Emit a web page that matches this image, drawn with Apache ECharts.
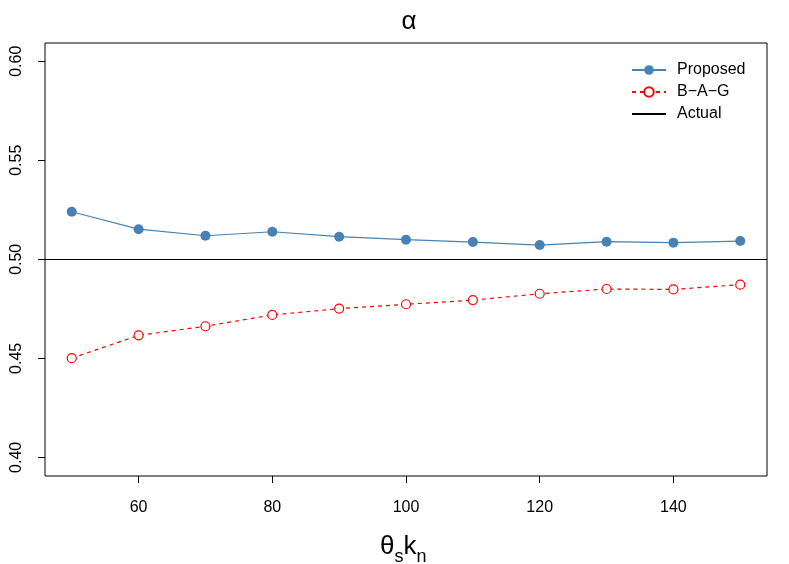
<!DOCTYPE html>
<html><head><meta charset="utf-8">
<script src="https://cdn.jsdelivr.net/npm/echarts@6/dist/echarts.min.js"></script>
<style>html,body{margin:0;padding:0;background:#fff}#c{width:789px;height:564px}</style>
</head><body><div id="c"></div>
<script>
const thetaKn = [50, 60, 70, 80, 90, 100, 110, 120, 130, 140, 150];
const proposed = [0.524, 0.5152, 0.5119, 0.5139, 0.5114, 0.5099, 0.5087, 0.5072, 0.5089, 0.5084, 0.5092];
const bag = [0.4501, 0.4616, 0.4662, 0.4719, 0.4751, 0.4773, 0.4794, 0.4826, 0.4850, 0.4848, 0.4872];
const actual = 0.5;
const xTicks = [60, 80, 100, 120, 140];
const yTicks = [0.40, 0.45, 0.50, 0.55, 0.60];

const font = 'Liberation Sans, Arial, Helvetica, sans-serif';
const chart = echarts.init(document.getElementById('c'));
chart.setOption({
  animation: false,
  textStyle: { fontFamily: font },
  title: {
    text: 'α', left: 404, top: 4, textAlign: 'center',
    textStyle: { fontSize: 26, fontWeight: 'normal', color: '#000', fontFamily: font }
  },
  grid: { left: 45, right: 22, top: 43, bottom: 88, show: true, borderColor: '#000', borderWidth: 1, backgroundColor: 'transparent' },
  legend: {
    orient: 'vertical', left: 626, top: 56, itemGap: 4, itemWidth: 34, itemHeight: 12,
    textStyle: { fontSize: 16, color: '#000', fontFamily: font, padding: [0, 0, 0, 6], lineHeight: 18 },
    data: [
      { name: 'Proposed' },
      { name: 'B\u2212A\u2212G' },
      { name: 'Actual', itemStyle: { opacity: 0 } }
    ]
  },
  xAxis: {
    type: 'value', min: 46, max: 154,
    splitLine: { show: false },
    axisLine: { show: false },
    axisTick: { show: true, length: 7, lineStyle: { color: '#000' }, customValues: xTicks },
    axisLabel: { color: '#000', fontSize: 16, margin: 24, customValues: xTicks, fontFamily: font }
  },
  yAxis: {
    type: 'value', min: 0.3906, max: 0.6092,
    splitLine: { show: false },
    axisLine: { show: false },
    axisTick: { show: true, length: 7, lineStyle: { color: '#000' }, customValues: yTicks },
    axisLabel: { color: '#000', fontSize: 16, margin: 20, rotate: 90, customValues: yTicks, fontFamily: font,
      formatter: v => v.toFixed(2) }
  },
  graphic: [{
    type: 'text', left: 380, top: 534,
    style: {
      text: '{a|θ}{s|s}{a|k}{s|n}',
      rich: {
        a: { fontSize: 26, fontFamily: font, fill: '#000', verticalAlign: 'bottom', lineHeight: 30 },
        s: { fontSize: 18, fontFamily: font, fill: '#000', verticalAlign: 'bottom', lineHeight: 22, padding: [0, 0, -6, 0] }
      }
    }
  }],
  series: [
    {
      name: 'Proposed', type: 'line', data: thetaKn.map((x, i) => [x, proposed[i]]),
      symbol: 'circle', symbolSize: 10, showAllSymbol: true,
      lineStyle: { color: '#4682B4', width: 1.2 },
      itemStyle: { color: '#4682B4' }
    },
    {
      name: 'B\u2212A\u2212G', type: 'line', data: thetaKn.map((x, i) => [x, bag[i]]),
      symbol: 'circle', symbolSize: 9, showAllSymbol: true,
      lineStyle: { color: '#FF0000', width: 1.2, type: [4, 4] },
      itemStyle: { color: '#fff', borderColor: '#FF0000', borderWidth: 1.2 }
    },
    {
      name: 'Actual', type: 'line', data: [],
      symbol: 'none',
      lineStyle: { color: '#000', width: 1.2 },
      itemStyle: { color: '#000' },
      markLine: {
        symbol: 'none', silent: true, label: { show: false },
        lineStyle: { color: '#000', width: 1.2, type: 'solid' },
        data: [{ yAxis: actual }]
      }
    }
  ]
});
</script></body></html>
